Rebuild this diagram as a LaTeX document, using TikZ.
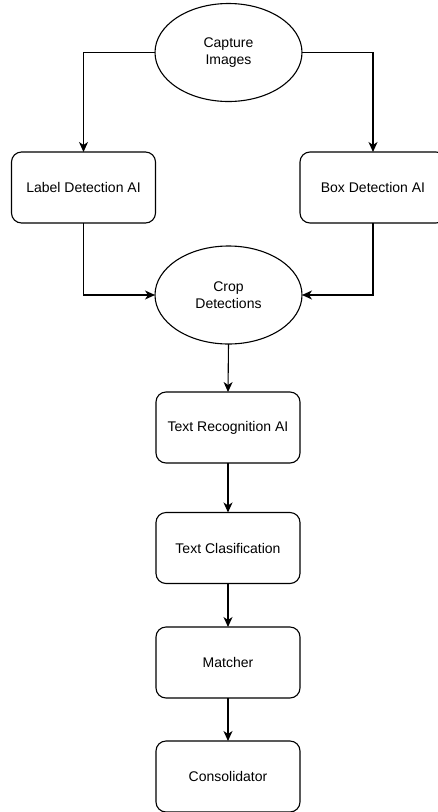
\documentclass[tikz,border=0pt]{standalone}
\usepackage{fontspec}
\setmainfont{Liberation Sans}
\usetikzlibrary{shapes.geometric,arrows.meta}
\begin{document}
\begin{tikzpicture}[x=1pt,y=-1pt,
  base/.style={draw=black,line width=1.1pt,inner sep=0pt,outer sep=0pt,align=center,
    font=\fontsize{14}{17.5}\selectfont},
  oval/.style={base,ellipse,minimum width=147pt,minimum height=98pt},
  stepbox/.style={base,rectangle,rounded corners=10pt,minimum width=144pt,minimum height=71pt},
  conn/.style={draw=black,line width=1.1pt,-{Stealth[length=10pt,width=9pt,inset=3pt]}}]
\useasboundingbox[fill=white] (0,0) rectangle (437,812);
\node[oval] (cap) at (228.5,52.5) {Capture\\Images};
\node[stepbox] (lab) at (83.5,187.5) {Label Detection AI};
\node[stepbox,minimum width=146pt] (box) at (373,187.5) {Box Detection AI};
\node[oval] (crop) at (228.5,295) {Crop\\Detections};
\node[stepbox] (rec) at (228,427.5) {Text Recognition AI};
\node[stepbox] (cls) at (228,548) {Text Clasification};
\node[stepbox] (mat) at (228,662.5) {Matcher};
\node[stepbox] (con) at (228,776.5) {Consolidator};
\draw[conn] (cap.west) -| (lab.north);
\draw[conn] (cap.east) -| (box.north);
\draw[conn] (lab.south) |- (crop.west);
\draw[conn] (box.south) |- (crop.east);
\draw[conn] (crop.south) -- (rec.north);
\draw[conn] (rec.south) -- (cls.north);
\draw[conn] (cls.south) -- (mat.north);
\draw[conn] (mat.south) -- (con.north);
\end{tikzpicture}
\end{document}
